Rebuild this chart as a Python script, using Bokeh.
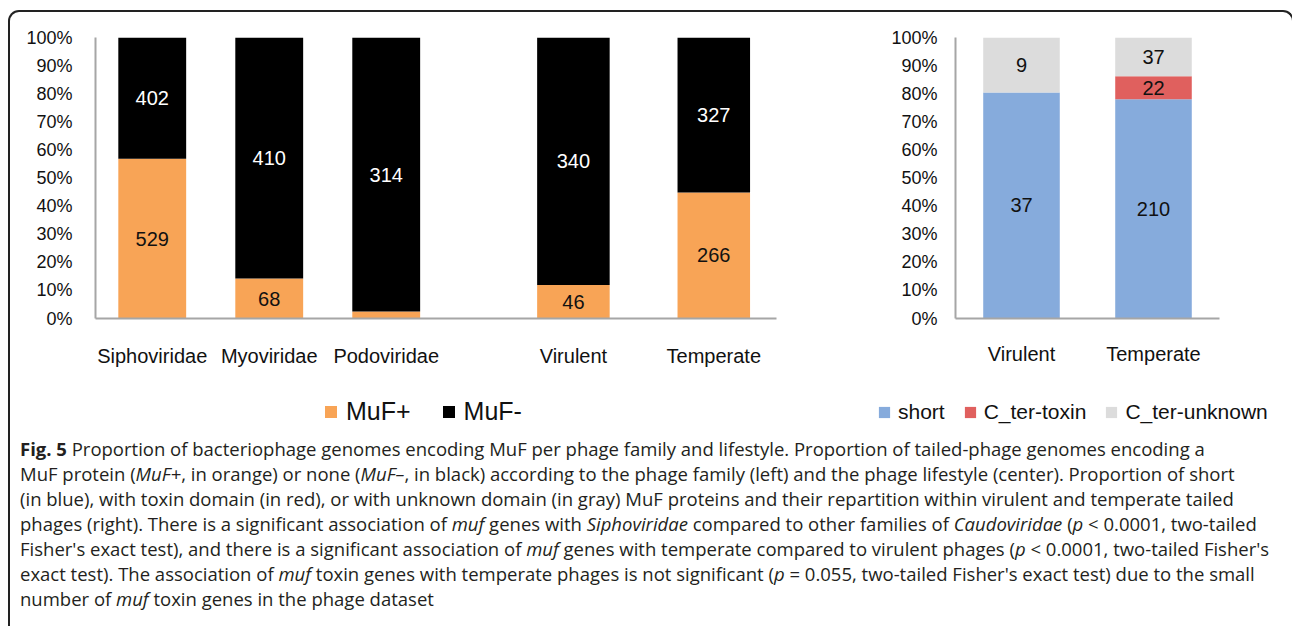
from bokeh.plotting import figure
from bokeh.models import (ColumnDataSource, FactorRange, Range1d, FixedTicker, NumeralTickFormatter,
                          Legend, LegendItem, Div, Spacer)
from bokeh.layouts import row, column
from bokeh.embed import file_html
from bokeh.resources import INLINE
from bokeh.core.properties import value

# ---------------- data ----------------
families = ["Siphoviridae", "Myoviridae", "Podoviridae"]
fam_muf_pos = [529, 68, 8]
fam_muf_neg = [402, 410, 314]

lifestyles = ["Virulent", "Temperate"]
life_muf_pos = [46, 266]
life_muf_neg = [340, 327]

muf_legend = ["MuF+", "MuF-"]

muf_types = ["short", "C_ter-toxin", "C_ter-unknown"]
type_short = [37, 210]
type_toxin = [0, 22]
type_unknown = [9, 37]

pct_ticks = [i / 10 for i in range(11)]

# ---------------- layout / style ----------------
FONT = "Liberation Sans"
ORANGE = "#F8A456"
BLACK = "#000000"
BLUE = "#86ABDC"
RED = "#E0605E"
GRAY = "#DCDCDC"
AXIS = "#A6A6A6"
TXT = "#111111"

LIFE_GAP = 3.6     # where the lifestyle group starts on the left chart's x scale
LIFE_STEP = 1.2    # spacing of lifestyle bars on that scale


def stacked(xs, series_list):
    totals = [sum(v) for v in zip(*series_list)]
    bottoms = [0.0] * len(totals)
    out = []
    for vals in series_list:
        fr = [v / t for v, t in zip(vals, totals)]
        tops = [b + f for b, f in zip(bottoms, fr)]
        mids = [(b + t) / 2 for b, t in zip(bottoms, tops)]
        labels = [str(v) if f >= 0.05 else "" for v, f in zip(vals, fr)]
        out.append(ColumnDataSource(dict(x=list(xs), bottom=bottoms, top=tops, mid=mids, label=labels)))
        bottoms = tops
    return out


def style_y(p, standoff):
    ax = p.yaxis[0]
    ax.ticker = FixedTicker(ticks=pct_ticks)
    ax.formatter = NumeralTickFormatter(format="0%")
    ax.axis_line_color = AXIS
    ax.axis_line_width = 2
    ax.major_tick_out = 0
    ax.major_tick_in = 0
    ax.minor_tick_out = 0
    ax.minor_tick_in = 0
    ax.major_tick_line_color = None
    ax.minor_tick_line_color = None
    ax.major_label_text_font = FONT
    ax.major_label_text_font_size = "18px"
    ax.major_label_text_color = TXT
    ax.major_label_standoff = standoff


def style_x(p, standoff):
    ax = p.xaxis[0]
    ax.axis_line_color = AXIS
    ax.axis_line_width = 2
    ax.major_tick_out = 0
    ax.major_tick_in = 0
    ax.minor_tick_out = 0
    ax.minor_tick_in = 0
    ax.major_tick_line_color = None
    ax.minor_tick_line_color = None
    ax.major_label_text_font = FONT
    ax.major_label_text_font_size = "20px"
    ax.major_label_text_color = TXT
    ax.major_label_standoff = standoff


def add_stack(p, sources, colors, label_colors, width):
    rs = []
    for src, c, tc in zip(sources, colors, label_colors):
        r = p.vbar(x="x", bottom="bottom", top="top", width=width, source=src,
                   fill_color=c, line_color=None)
        rs.append(r)
        p.text(x="x", y="mid", text="label", source=src, text_align="center", text_baseline="middle",
               text_font=value(FONT), text_font_size="20px", text_color=tc)
    return rs


# ---------------- left chart: family + lifestyle ----------------
fam_x = [float(i) for i in range(len(families))]
life_x = [LIFE_GAP + i * LIFE_STEP for i in range(len(lifestyles))]

pl = figure(width=774, height=368, x_range=Range1d(-0.485, 5.336), y_range=Range1d(0, 1),
            output_backend="svg", toolbar_location=None, min_border_left=0, min_border_right=21,
            min_border_top=22, min_border_bottom=62, outline_line_color=None)
pl.xgrid.visible = False
pl.ygrid.visible = False
style_y(pl, 23)
style_x(pl, 26)
pl.xaxis.ticker = FixedTicker(ticks=fam_x + life_x)
pl.xaxis.major_label_overrides = dict(zip(fam_x + life_x, families + lifestyles))

muf_colors = [ORANGE, BLACK]
muf_label_colors = [TXT, "white"]
add_stack(pl, stacked(fam_x, [fam_muf_pos, fam_muf_neg]), muf_colors, muf_label_colors, 0.58)
add_stack(pl, stacked(life_x, [life_muf_pos, life_muf_neg]), muf_colors, muf_label_colors, 0.62)

# ---------------- right chart: MuF types ----------------
pr = figure(width=391, height=368, x_range=FactorRange(*lifestyles, range_padding=0), y_range=Range1d(0, 1),
            output_backend="svg", toolbar_location=None, min_border_left=0, min_border_right=60,
            min_border_top=25, min_border_bottom=59, outline_line_color=None)
pr.xgrid.visible = False
pr.ygrid.visible = False
style_y(pr, 18)
style_x(pr, 24)
type_colors = [BLUE, RED, GRAY]
add_stack(pr, stacked(lifestyles, [type_short, type_toxin, type_unknown]), type_colors, [TXT] * 3, 0.58)

# ---------------- legends (row under both charts) ----------------
pleg = figure(width=1272, height=51, x_range=Range1d(0, 1), y_range=Range1d(0, 1),
              output_backend="svg", toolbar_location=None, x_axis_location=None, y_axis_location=None,
              min_border=0, outline_line_color=None)
pleg.xgrid.visible = False
pleg.ygrid.visible = False


def legend_items(labels, colors):
    # swatch-only renderers: one row of NaN, so nothing is drawn in the plot area
    items = []
    for lab, c in zip(labels, colors):
        r = pleg.vbar(x=[float("nan")], top=[float("nan")], width=0.5, fill_color=c, line_color=None)
        items.append(LegendItem(label=lab, renderers=[r]))
    return items


leg_l = Legend(items=legend_items(muf_legend, muf_colors), location=(313, 5), orientation="horizontal",
               glyph_width=15, glyph_height=15, label_standoff=8, spacing=30, padding=0, margin=0,
               border_line_color=None, background_fill_alpha=0, label_text_font=FONT,
               label_text_font_size="25px", label_text_color=TXT)
leg_r = Legend(items=legend_items(muf_types, type_colors), location=(867, 7), orientation="horizontal",
               glyph_width=14, glyph_height=14, label_standoff=7, spacing=18, padding=0, margin=0,
               border_line_color=None, background_fill_alpha=0, label_text_font=FONT,
               label_text_font_size="21px", label_text_color=TXT)
pleg.add_layout(leg_l)
pleg.add_layout(leg_r)

# ---------------- caption ----------------
caption_lines = [
    "<b>Fig. 5</b> Proportion of bacteriophage genomes encoding MuF per phage family and lifestyle. Proportion of tailed-phage genomes encoding a",
    "MuF protein (<i>MuF+</i>, in orange) or none (<i>MuF&ndash;</i>, in black) according to the phage family (left) and the phage lifestyle (center). Proportion of short",
    "(in blue), with toxin domain (in red), or with unknown domain (in gray) MuF proteins and their repartition within virulent and temperate tailed",
    "phages (right). There is a significant association of <i>muf</i> genes with <i>Siphoviridae</i> compared to other families of <i>Caudoviridae</i> (<i>p</i> &lt; 0.0001, two-tailed",
    "Fisher's exact test), and there is a significant association of <i>muf</i> genes with temperate compared to virulent phages (<i>p</i> &lt; 0.0001, two-tailed Fisher's",
    "exact test). The association of <i>muf</i> toxin genes with temperate phages is not significant (<i>p</i> = 0.055, two-tailed Fisher's exact test) due to the small",
    "number of <i>muf</i> toxin genes in the phage dataset",
]
cap_html = ('<div style="font-family:\'Open Sans\'; font-size:18.5px; line-height:25px; padding-left:5px; '
            'white-space:nowrap; color:#231f20;">' + "<br>".join(caption_lines) + "</div>")
cap = Div(text=cap_html, width=1272, height=189)

inner = column(row(Spacer(width=13), pl, Spacer(width=91), pr), pleg, cap,
               styles={"border": "2px solid #222222", "border-bottom": "none",
                       "border-radius": "11px 11px 0 0"})
layout = column(Spacer(height=10), row(Spacer(width=8), inner))

open("out.html", "w").write(file_html(layout, INLINE))
